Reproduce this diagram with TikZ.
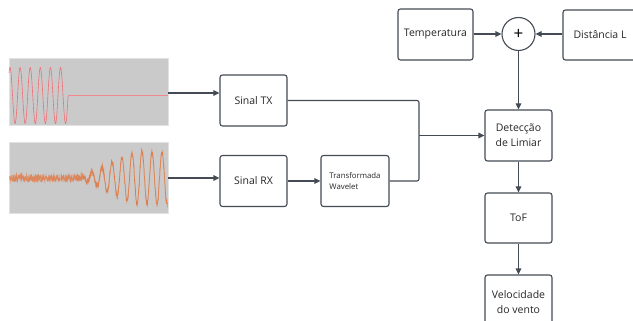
\documentclass[tikz,border=0pt]{standalone}
\usepackage{fontspec}
\setmainfont{Open Sans}
\usetikzlibrary{arrows.meta,shapes.geometric}
\definecolor{linec}{HTML}{454B55}
\definecolor{plotbg}{HTML}{CACACA}
\definecolor{plotedge}{HTML}{E2E2E2}
\definecolor{txwave}{HTML}{EE6F76}
\definecolor{txflat}{HTML}{F08A90}
\definecolor{rxwave}{HTML}{E2733A}
\tikzset{
  blk/.style={draw=linec, line width=1.1pt, rounded corners=2.5pt, minimum width=67pt, minimum height=51pt, inner sep=0pt, align=center, font=\fontsize{10.5}{15}\selectfont, text=black!85},
  conn/.style={draw=linec, line width=1.1pt},
  arr/.style={conn, -{Triangle[length=6pt,width=5.5pt]}},
  plotbox/.style={fill=plotbg, draw=plotedge, line width=1pt}
}
\begin{document}
\begin{tikzpicture}[x=1pt,y=-1pt]
\useasboundingbox (0,0) rectangle (633,321);
\clip (0,0) rectangle (633,321);
\fill[white] (0,0) rectangle (633,321);
% plots
\node[plotbox, minimum width=159pt, minimum height=67pt, inner sep=0pt] (plot1) at (88.5,92.5) {};
\node[plotbox, minimum width=159pt, minimum height=70pt, inner sep=0pt] (plot2) at (88.5,178) {};
\draw[txwave, line width=0.6pt, domain=9:68.1, samples=240, smooth] plot (\x,{95.5-28*sin(35.644*(\x-7.5))});
\draw[txflat, line width=0.9pt] (68.1,95.5) -- (167.5,95.5);
\pgfmathsetseed{7}
\draw[rxwave, line width=0.5pt, opacity=0.75, domain=9.5:167.5, samples=800] plot (\x,{178-26*min(1,max(0,(\x-78)/56))*sin(36*(\x-89.5))+4*rand});
\draw[rxwave, line width=0.8pt, opacity=0.55, domain=78:167.5, samples=300, smooth] plot (\x,{178-26*min(1,max(0,(\x-78)/56))*sin(36*(\x-89.5))});
\coordinate (p1) at (168,93);
\coordinate (p2) at (168,178);
% blocks
\node[blk] (tx) at (253.5,100.5) {Sinal TX};
\node[blk] (rx) at (253.5,181) {Sinal RX};
\node[blk, minimum width=68pt, align=left, font=\fontsize{7.8}{11}\selectfont] (wav) at (355,181) {Transformada\\Wavelet};
\node[blk, minimum width=75pt] (temp) at (435.5,34.5) {Temperatura};
\node[draw=linec, line width=1.1pt, circle, minimum size=33pt, inner sep=0pt, font=\fontsize{17}{17}\selectfont] (sum) at (518.5,34) {+};
\node[blk, minimum width=74pt, minimum height=50pt] (dist) at (600,35) {Distância L};
\node[blk] (det) at (518.5,135.5) {Detecção\\de Limiar};
\node[blk, minimum height=50pt] (tof) at (518.5,218) {ToF};
\node[blk, minimum height=55pt] (vel) at (518.5,302.5) {Velocidade\\do vento};
\coordinate (jn) at (419,135.5);
% connectors
\draw[arr] (p1) -- (p1 -| tx.west);
\draw[arr] (p2) -- (p2 -| rx.west);
\draw[arr] (rx) -- (wav);
\draw[conn, rounded corners=2pt] (tx.east) -| (jn);
\draw[conn, rounded corners=2pt] (wav.east) -| (jn);
\draw[arr] (jn) -- (det.west);
\draw[arr] (temp.east |- sum) -- (sum.west);
\draw[arr] (dist.west |- sum) -- (sum.east);
\draw[arr] (sum.south) -- (det.north);
\draw[arr] (det) -- (tof);
\draw[arr] (tof) -- (vel);
\end{tikzpicture}
\end{document}
